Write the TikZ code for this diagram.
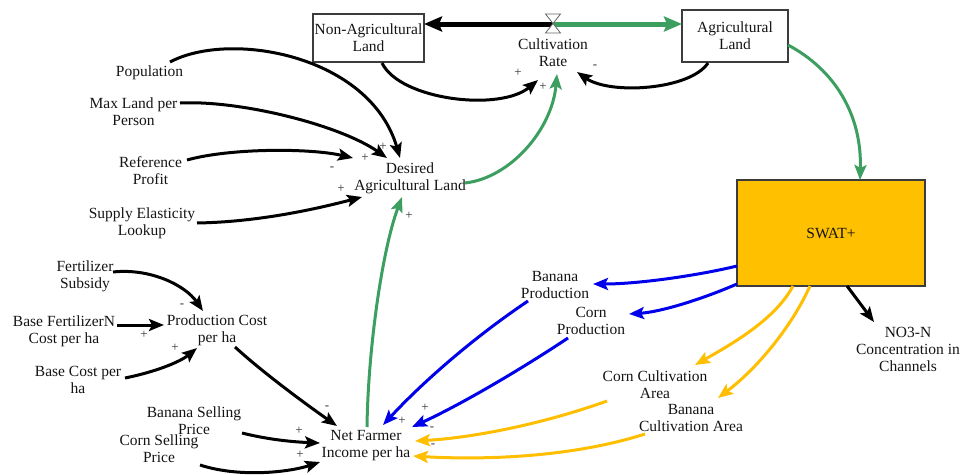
\documentclass[tikz,border=0pt]{standalone}
\usepackage{fontspec}
\setmainfont{Liberation Serif}
\usetikzlibrary{arrows.meta}
\definecolor{lkgreen}{RGB}{60,158,95}
\definecolor{lkblue}{RGB}{0,0,235}
\definecolor{lkyellow}{RGB}{255,190,0}
\definecolor{swatfill}{RGB}{255,192,0}
\definecolor{boxline}{RGB}{60,60,60}
\begin{document}
\begin{tikzpicture}[x=1pt,y=-1pt,
  lbl/.style={align=center,inner sep=0pt,text=black!92,font=\fontsize{15.5}{17}\selectfont},
  stockbox/.style={lbl,draw=boxline,line width=1.3pt},
  lnk/.style={line width=3pt,-{Stealth[length=15pt,width=12pt,inset=3pt]}},
  pipe/.style={line width=5pt,-{Stealth[length=18pt,width=15pt,inset=3pt]}},
  pol/.style={inner sep=0pt,text=black!80,font=\fontsize{13}{13}\selectfont}
]
\useasboundingbox (0,0) rectangle (963,474);

% stocks and SWAT
\node[stockbox,minimum width=111pt,minimum height=48pt] (nal) at (368.5,38) {Non-Agricultural\\Land};
\node[stockbox,minimum width=106pt,minimum height=52pt] (al) at (735,36) {Agricultural\\Land};
\node[lbl,draw=boxline,line width=1.3pt,fill=swatfill,minimum width=188pt,minimum height=106pt] (swat) at (831,233) {SWAT+};

% valve
\coordinate (valve) at (553,24);

% variables
\node[lbl] (cr) at (553,53) {Cultivation\\Rate};
\node[lbl] (dal) at (410,178.5) {Desired\\Agricultural Land};
\node[lbl] (pop) at (149.5,73) {Population};
\node[lbl] (mlp) at (133.5,111.5) {Max Land per\\Person};
\node[lbl] (rp) at (150.5,171) {Reference\\Profit};
\node[lbl] (sel) at (142,223.5) {Supply Elasticity\\Lookup};
\node[lbl] (fs) at (85,276) {Fertilizer\\Subsidy};
\node[lbl] (bfn) at (64,331.5) {Base FertilizerN\\Cost per ha};
\node[lbl] (pc) at (217,330.5) {Production Cost\\per ha};
\node[lbl] (bc) at (78,380) {Base Cost per\\ha};
\node[lbl] (bsp) at (194,421) {Banana Selling\\Price};
\node[lbl] (csp) at (159,448.5) {Corn Selling\\Price};
\node[lbl] (nfi) at (366,446) {Net Farmer\\Income per ha};
\node[lbl] (bp) at (555,285) {Banana\\Production};
\node[lbl] (cp) at (591,321) {Corn\\Production};
\node[lbl] (cca) at (655,384.5) {Corn Cultivation\\Area};
\node[lbl] (bca) at (691,417.5) {Banana\\Cultivation Area};
\node[lbl] (no3) at (908,349) {NO3-N\\Concentration in\\Channels};

% flow pipes
\draw[pipe,black] (valve) -- ([shift={(55.5,-14)}]nal.center);
\draw[pipe,lkgreen] (valve) -- ([shift={(-53,-12)}]al.center);
\draw[draw=black!60,fill=white,line width=0.8pt] (545.5,14) -- (560.5,14) -- (545.5,33) -- (560.5,33) -- cycle;

% links to cultivation rate
\draw[lnk] ([shift={(13.5,25)}]nal.center) .. controls (400,100) and (500,112) .. ([shift={(-15,27)}]cr.center);
\draw[lnk] ([shift={(-27,27)}]al.center) .. controls (690,90) and (610,95) .. ([shift={(24,19)}]cr.center);
\draw[lnk,lkgreen] ([shift={(55,4.5)}]dal.center) .. controls (510,178) and (552,130) .. ([shift={(4,21)}]cr.center);

% links to desired agricultural land
\draw[lnk] ([shift={(20.5,-11)}]pop.center) .. controls (230,30) and (370,55) .. ([shift={(-10,-20.5)}]dal.center);
\draw[lnk] ([shift={(46.5,-8.5)}]mlp.center) .. controls (240,100) and (340,125) .. ([shift={(-23,-20.5)}]dal.center);
\draw[lnk] ([shift={(36.5,-11)}]rp.center) .. controls (230,148) and (310,148) .. ([shift={(-57,-20.5)}]dal.center);
\draw[lnk] ([shift={(55,-0.5)}]sel.center) .. controls (260,222) and (320,208) .. ([shift={(-48,18.5)}]dal.center);
\draw[lnk,lkgreen] ([shift={(1,-19)}]nfi.center) .. controls (368,350) and (382,250) .. ([shift={(-8,18.5)}]dal.center);

% agricultural land to SWAT
\draw[lnk,lkgreen] ([shift={(53,9)}]al.center) .. controls (835,70) and (862,115) .. ([shift={(29,-53)}]swat.center);

% SWAT outputs
\draw[lnk,lkblue] ([shift={(-94,33)}]swat.center) .. controls (700,275) and (640,284) .. ([shift={(38,-1)}]bp.center);
\draw[lnk,lkblue] ([shift={(-94,51)}]swat.center) .. controls (700,300) and (660,312) .. ([shift={(38,-7)}]cp.center);
\draw[lnk] ([shift={(16,53)}]swat.center) -- ([shift={(-34,-27)}]no3.center);
\draw[lnk,lkyellow] ([shift={(-38,53)}]swat.center) .. controls (775,320) and (730,345) .. ([shift={(40,-19.5)}]cca.center);
\draw[lnk,lkyellow] ([shift={(-21,53)}]swat.center) .. controls (790,330) and (755,370) .. ([shift={(27,-19.5)}]bca.center);

% links to net farmer income
\draw[lnk,lkblue] ([shift={(-27,16)}]bp.center) .. controls (470,340) and (420,385) .. ([shift={(17,-21)}]nfi.center);
\draw[lnk,lkblue] ([shift={(-23,17)}]cp.center) .. controls (520,370) and (460,405) .. ([shift={(46,-19)}]nfi.center);
\draw[lnk,lkyellow] ([shift={(-48,16.5)}]cca.center) .. controls (540,425) and (470,438) .. ([shift={(49,-5)}]nfi.center);
\draw[lnk,lkyellow] ([shift={(-46,16.5)}]bca.center) .. controls (570,458) and (480,460) .. ([shift={(47,10)}]nfi.center);
\draw[lnk] ([shift={(18,16.5)}]pc.center) .. controls (260,370) and (300,400) .. ([shift={(-29,-20)}]nfi.center);
\draw[lnk] ([shift={(48,12)}]bsp.center) .. controls (270,440) and (295,442) .. ([shift={(-46,-3)}]nfi.center);
\draw[lnk] ([shift={(41,16.5)}]csp.center) .. controls (240,478) and (290,472) .. ([shift={(-46,16)}]nfi.center);

% links to production cost
\draw[lnk] ([shift={(28,-4)}]fs.center) .. controls (150,268) and (185,285) .. ([shift={(-14,-19.5)}]pc.center);
\draw[lnk] ([shift={(53,-6.5)}]bfn.center) -- ([shift={(-53,-5.5)}]pc.center);
\draw[lnk] ([shift={(47,-2)}]bc.center) .. controls (155,372) and (180,362) .. ([shift={(-20,17.5)}]pc.center);

% polarities
\node[pol] (s1) at (518,73) {+};
\node[pol] (s2) at (595,67) {-};
\node[pol] (s3) at (543,87) {+};
\node[pol] (s4) at (383,147) {+};
\node[pol] (s5) at (365,158) {+};
\node[pol] (s6) at (332,169) {-};
\node[pol] (s7) at (341,189) {+};
\node[pol] (s8) at (409,216) {+};
\node[pol] (s9) at (182,306) {-};
\node[pol] (s10) at (144,335) {+};
\node[pol] (s11) at (175,348) {+};
\node[pol] (s12) at (327,408) {-};
\node[pol] (s13) at (299,431) {+};
\node[pol] (s14) at (300,455) {+};
\node[pol] (s15) at (402,421) {+};
\node[pol] (s16) at (425,408) {+};
\node[pol] (s17) at (432,429) {-};
\node[pol] (s18) at (433,446) {-};
\end{tikzpicture}
\end{document}
